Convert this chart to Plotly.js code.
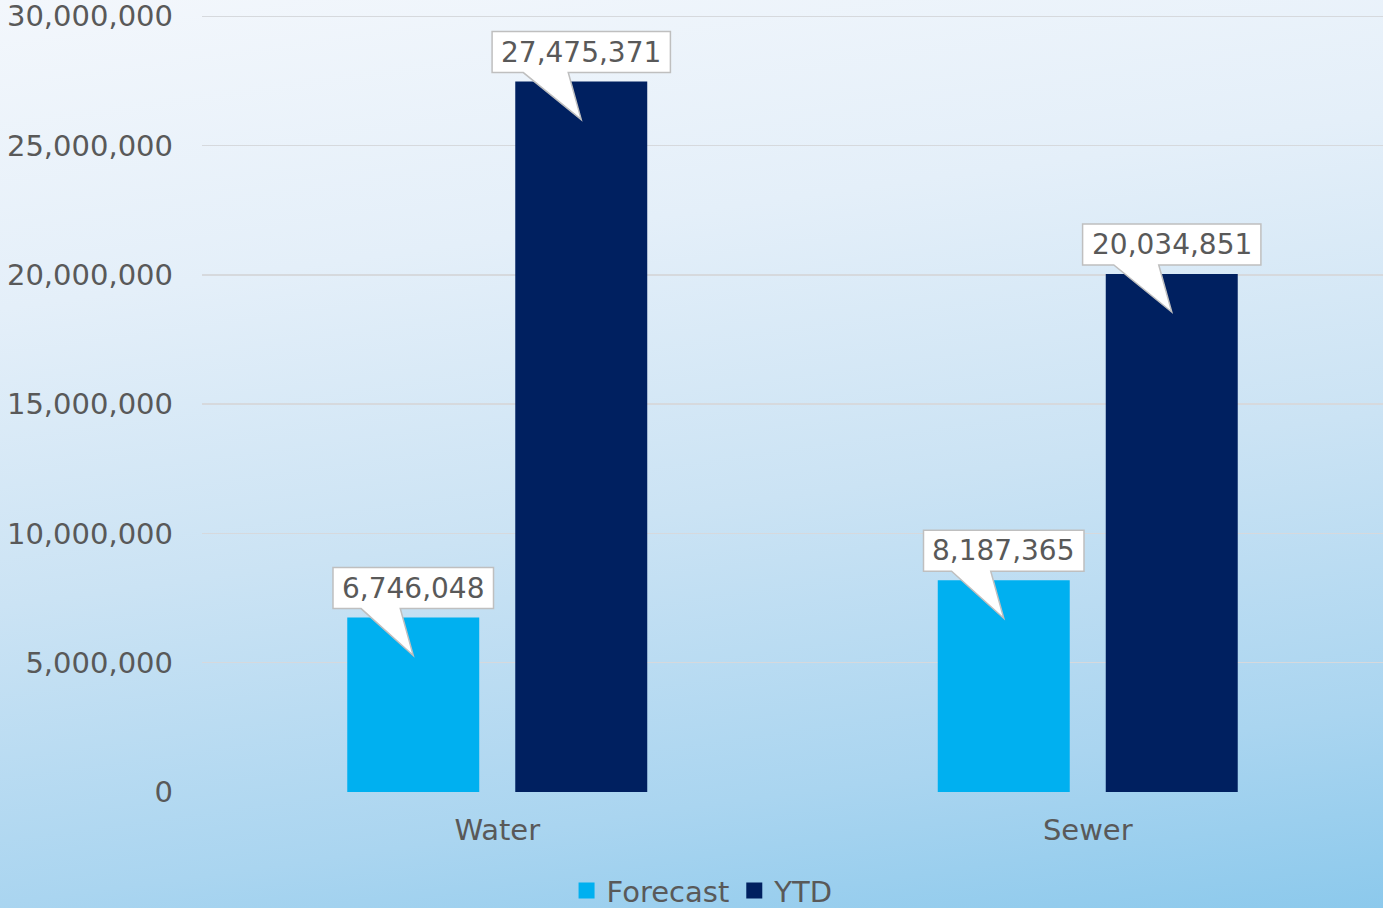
<!DOCTYPE html>
<html><head><meta charset="utf-8">
<script src="https://cdn.plot.ly/plotly-3.0.1.min.js"></script>
<style>
html,body{margin:0;padding:0;width:1383px;height:908px;overflow:hidden;}
body{background:linear-gradient(172deg,#f3f7fc 0%,#e4eff9 28%,#cbe3f4 55%,#aad5f0 82%,#8cc9ec 100%);}
#chart{width:1383px;height:908px;}
</style></head><body><div id="chart"></div>
<script>
const categories = ['Water', 'Sewer'];
const seriesNames = ['Forecast', 'YTD'];
const forecastValues = [6746048, 8187365];
const ytdValues = [27475371, 20034851];
const yTickValues = [0, 5000000, 10000000, 15000000, 20000000, 25000000, 30000000];
const yTickLabels = ['0', '5,000,000', '10,000,000', '15,000,000', '20,000,000', '25,000,000', '30,000,000'];
const seriesColors = ['#00b0f0', '#002060'];

const FONT = '"DejaVu Sans", Verdana, sans-serif';
const FS = 29;
const LFS = 28;
const textColor = '#595959';

// bar geometry in category units
const barWidth = 0.2235;
const offsets = [-0.254, 0.0305];

const allValues = [forecastValues, ytdValues];

const traces = allValues.map((vals, s) => ({
  type: 'bar',
  name: seriesNames[s],
  x: categories,
  y: vals,
  width: categories.map(() => barWidth),
  offset: categories.map(() => offsets[s]),
  marker: {color: seriesColors[s], line: {width: 0}},
  showlegend: false,
  hoverinfo: 'skip'
}));
// legend entries
seriesNames.forEach((n, s) => traces.push({
  type: 'scatter', mode: 'markers', name: n, x: [null], y: [null],
  marker: {symbol: 'square', size: 16, color: seriesColors[s]},
  showlegend: true, hoverinfo: 'skip'
}));

const canvas = document.createElement('canvas');
const ctx = canvas.getContext('2d');
ctx.font = LFS + 'px "DejaVu Sans"';
const fmt = v => v.toLocaleString('en-US');

const shapes = [];
const annotations = [];
allValues.forEach((vals, s) => {
  vals.forEach((v, i) => {
    const xc = i + offsets[s] + barWidth / 2;
    const txt = fmt(v);
    const tw = ctx.measureText(txt).width;
    const h = tw / 2 + 9;
    const bB = 9, bT = 50, tip = -38, wl = -0.65 * h, wr = -13;
    const path = `M${-h},${bT} L${h},${bT} L${h},${bB} L${wr},${bB} L0,${tip} L${wl},${bB} L${-h},${bB} Z`;
    shapes.push({
      type: 'path', xref: 'x', yref: 'y', xsizemode: 'pixel', ysizemode: 'pixel',
      xanchor: xc, yanchor: v, path: path,
      fillcolor: '#ffffff', line: {color: '#bfbfbf', width: 1.5}, layer: 'above'
    });
    annotations.push({
      x: xc, y: v, xref: 'x', yref: 'y', text: txt, showarrow: false,
      yshift: (bB + bT) / 2, xanchor: 'center', yanchor: 'middle',
      font: {family: FONT, size: LFS, color: textColor}
    });
  });
});

const layout = {
  width: 1383, height: 908,
  paper_bgcolor: 'rgba(0,0,0,0)', plot_bgcolor: 'rgba(0,0,0,0)',
  margin: {l: 202, r: 0, t: 15, b: 116, pad: 0, autoexpand: false},
  font: {family: FONT, size: FS, color: textColor},
  showlegend: true,
  legend: {orientation: 'h', xref: 'container', x: 0.508, xanchor: 'center',
           yref: 'container', y: 0.019, yanchor: 'middle',
           font: {family: FONT, size: FS, color: textColor}, bgcolor: 'rgba(0,0,0,0)'},
  xaxis: {type: 'category', range: [-0.5, 1.5], showgrid: false, zeroline: false,
          showline: false, ticks: '', ticklabelstandoff: 18, automargin: false,
          tickfont: {family: FONT, size: FS, color: textColor}},
  yaxis: {range: [0, 30050000], tickvals: yTickValues, ticktext: yTickLabels,
          showgrid: true, gridcolor: '#d6d9dd', gridwidth: 1.5, zeroline: false,
          showline: false, ticks: '', ticklabelstandoff: 28, automargin: false,
          ticklabeloverflow: 'allow',
          tickfont: {family: FONT, size: FS, color: textColor}},
  shapes: shapes,
  annotations: annotations,
  hovermode: false
};

Plotly.newPlot('chart', traces, layout, {displayModeBar: false, staticPlot: true});
</script>
</body></html>
